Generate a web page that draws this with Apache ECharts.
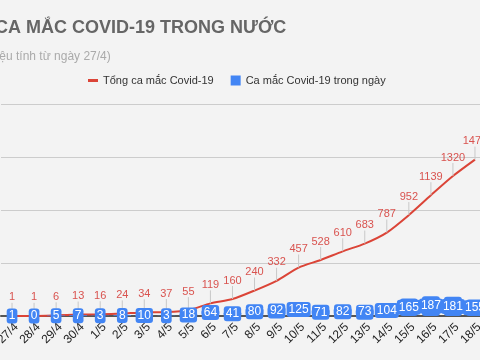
<!DOCTYPE html>
<html>
<head>
<meta charset="utf-8">
<script src="https://cdn.jsdelivr.net/npm/echarts@6/dist/echarts.min.js"></script>
<style>html,body{margin:0;padding:0;background:#f3f3f3;}#c{width:480px;height:360px;}</style>
</head>
<body>
<div id="c"></div>
<script>
var categories = ['27/4','28/4','29/4','30/4','1/5','2/5','3/5','4/5','5/5','6/5','7/5','8/5','9/5','10/5','11/5','12/5','13/5','14/5','15/5','16/5','17/5','18/5'];
var totalCases = [1,1,6,13,16,24,34,37,55,119,160,240,332,457,528,610,683,787,952,1139,1320,1475];
var dailyCases = [1,0,5,7,3,8,10,3,18,64,41,80,92,125,71,82,73,104,165,187,181,155];
var yTicks = [0,500,1000,1500,2000];

var chart = echarts.init(document.getElementById('c'));
chart.setOption({
  backgroundColor: '#f3f3f3',
  animation: false,
  textStyle: {fontFamily: 'Liberation Sans, Arial, sans-serif'},
  title: [{
    text: 'SỐ CA MẮC COVID-19 TRONG NƯỚC',
    left: -36, top: 19,
    padding: 0,
    textStyle: {fontSize: 18, fontWeight: 'bold', color: '#666'}
  }, {
    text: '(Số liệu tính từ ngày 27/4)',
    left: -28, top: 51,
    padding: 0,
    textStyle: {fontSize: 12, fontWeight: 'normal', color: '#aaa'}
  }],
  legend: {
    left: 83, top: 70,
    itemWidth: 10, itemHeight: 10, itemGap: 17,
    textStyle: {fontSize: 11, color: '#333'},
    data: [
      {name: 'Tổng ca mắc Covid-19', icon: 'path://M0,0L10,0L10,3L0,3Z'},
      {name: 'Ca mắc Covid-19 trong ngày', icon: 'rect'}
    ]
  },
  grid: {left: 1, right: -6, top: 104, bottom: 44, outerBoundsMode: 'none', containLabel: false},
  xAxis: {
    type: 'category',
    data: categories,
    axisLine: {lineStyle: {color: '#555', width: 2}},
    axisTick: {show: false},
    axisLabel: {rotate: 45, interval: 0, fontSize: 12, color: '#222', margin: 5, verticalAlign: 'top'}
  },
  yAxis: {
    type: 'value',
    min: yTicks[0], max: yTicks[yTicks.length - 1], interval: 500,
    axisLabel: {show: false},
    axisLine: {show: false},
    axisTick: {show: false},
    splitLine: {lineStyle: {color: '#ccc', width: 1}}
  },
  series: [{
    name: 'Tổng ca mắc Covid-19',
    type: 'line',
    data: totalCases,
    smooth: 0.25,
    symbol: 'circle',
    symbolSize: 0.1,
    z: 2,
    lineStyle: {color: '#db4437', width: 2},
    itemStyle: {color: '#db4437'},
    label: {show: true, position: 'top', distance: 5, fontSize: 11, color: '#d9534f'},
    labelLayout: {dy: -8},
    labelLine: {show: true, lineStyle: {color: '#c8c8c8', width: 1}}
  }, {
    name: 'Ca mắc Covid-19 trong ngày',
    type: 'bar',
    data: dailyCases,
    barWidth: 18,
    z: 3,
    itemStyle: {color: '#4285f4', borderRadius: 3},
    label: {
      show: true, position: 'inside', fontSize: 12, color: '#fff',
      backgroundColor: '#4285f4', borderRadius: 3, padding: [2, 2, 1, 2]
    }
  }]
});
</script>
</body>
</html>
